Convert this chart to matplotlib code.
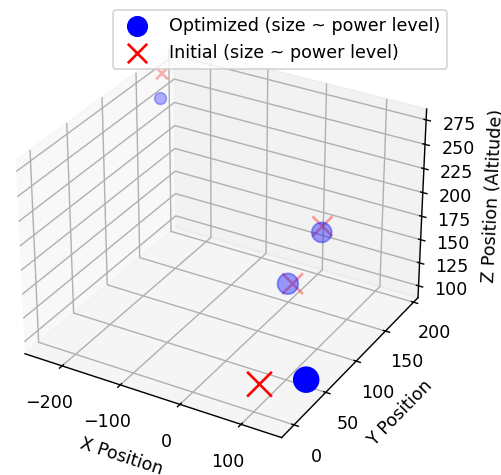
import matplotlib
matplotlib.use("Agg")
import matplotlib.pyplot as plt

# optimized positions (after) and initial positions (before)
opt_x = [140, 3, 26, -247]
opt_y = [43, 146, 179, 171]
opt_z = [100, 110, 150, 251]
opt_size = [200, 140, 130, 45]

init_x = [88, 9, 26, -252]
init_y = [20, 148, 180, 178]
init_z = [100, 110, 156, 273]
init_size = [200, 140, 130, 45]

fig = plt.figure(figsize=(501 / 126, 475 / 126), dpi=126)
ax = fig.add_axes([-0.019, 0.018, 0.912, 0.962], projection="3d")
ax.computed_zorder = False

ax.scatter(opt_x, opt_y, opt_z, s=opt_size, c="blue", marker="o",
           label="Optimized (size ~ power level)", zorder=2)
ax.scatter(init_x, init_y, init_z, s=init_size, c="red", marker="x",
           label="Initial (size ~ power level)", zorder=1)

ax.set_xlim(-265, 165)
ax.set_ylim(-19, 208)
ax.set_zlim(87, 286)

ax.set_xlabel("X Position")
ax.set_ylabel("Y Position")
ax.set_zlabel("Z Position (Altitude)")

ax.legend(loc="upper right", bbox_to_anchor=(447 / 501, 1 - 10 / 475),
          bbox_transform=fig.transFigure, borderaxespad=0)

fig.savefig("out.png", dpi=126)
